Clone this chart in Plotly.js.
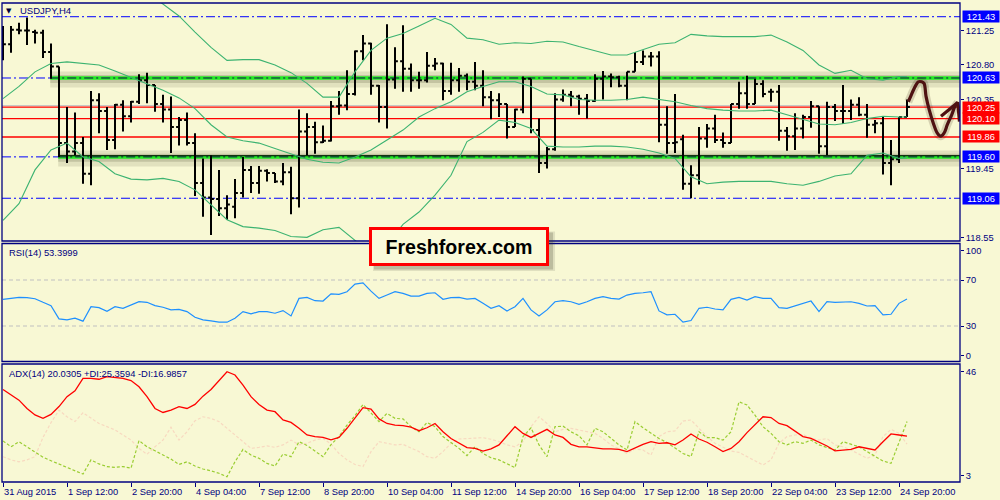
<!DOCTYPE html>
<html><head><meta charset="utf-8">
<script src="https://cdn.plot.ly/plotly-3.0.1.min.js"></script>
<style>html,body{margin:0;padding:0;background:#F8F8D4;}#chart{width:1000px;height:500px;}</style>
</head><body><div id="chart"></div>
<script>
// ---------- DATA ----------
const timeTickBars = [0,8,16,24,32,40,48,56,64,72,80,88,96,104,112];
const timeTickLabels = ["31 Aug 2015","1 Sep 12:00","2 Sep 20:00","4 Sep 04:00","7 Sep 12:00","8 Sep 20:00","10 Sep 04:00","11 Sep 12:00","14 Sep 20:00","16 Sep 04:00","17 Sep 12:00","18 Sep 20:00","22 Sep 04:00","23 Sep 12:00","24 Sep 20:00"];

const open = [121.00,121.07,121.26,121.25,121.23,121.22,120.97,120.78,119.78,119.67,
119.78,119.38,120.34,120.20,119.82,120.28,120.13,120.32,120.60,120.54,
120.29,120.22,119.99,120.08,119.78,119.26,119.07,119.05,118.93,118.95,
119.13,119.43,119.26,119.42,119.39,119.28,119.40,119.06,119.93,119.99,
119.79,119.81,120.26,120.27,120.42,120.98,121.08,120.53,120.25,120.61,
120.85,120.75,120.60,120.60,120.79,120.82,120.46,120.60,120.66,120.58,
120.53,120.38,120.34,120.29,119.99,120.22,120.62,119.95,119.52,119.70,
120.35,120.41,120.39,120.36,120.33,120.62,120.65,120.64,120.53,120.71,
120.84,120.91,120.91,120.02,119.78,119.83,119.25,119.36,119.84,119.97,
119.82,119.78,120.29,120.43,120.29,120.55,120.45,120.45,119.94,119.87,
119.97,120.12,120.26,119.74,120.25,120.20,120.20,120.28,120.15,120.02,
120.04,119.52,119.57,120.12];
const high = [121.31,121.31,121.35,121.42,121.26,121.26,121.08,120.78,120.25,120.18,
119.86,120.46,120.43,120.25,120.29,120.34,120.33,120.68,120.70,120.54,
120.41,120.39,120.12,120.18,119.91,119.58,119.62,119.43,119.10,119.31,
119.60,119.48,119.48,119.44,119.39,119.52,119.47,120.22,120.17,120.06,
120.01,120.33,120.46,120.73,120.99,121.19,121.09,120.54,121.33,121.03,
121.32,120.82,120.71,120.97,120.89,120.83,120.83,120.76,120.69,120.84,
120.73,120.46,120.43,120.29,120.23,120.65,120.62,120.10,119.73,120.43,
120.48,120.46,120.41,120.42,120.68,120.72,120.69,120.66,120.71,120.97,
120.99,120.97,120.98,120.26,120.42,119.89,119.49,119.99,120.03,120.15,
119.92,120.29,120.58,120.66,120.62,120.60,120.49,120.54,119.99,120.17,
120.15,120.33,120.26,120.32,120.29,120.54,120.35,120.38,120.29,120.08,
120.12,119.82,120.12,120.35];
const low = [120.86,120.96,121.20,121.06,121.08,120.89,120.62,119.60,119.52,119.62,
119.25,119.23,119.91,119.69,119.70,119.93,120.05,120.29,120.30,120.19,
120.05,119.65,119.75,119.75,119.09,118.82,118.58,118.83,118.78,118.80,
119.07,119.13,119.12,119.28,119.26,119.23,118.85,118.94,119.62,119.64,
119.78,119.80,120.15,120.21,120.40,120.86,120.41,120.05,119.97,120.49,
120.45,120.45,120.49,120.57,120.73,120.34,120.41,120.45,120.47,120.47,
120.26,120.09,120.12,119.84,119.99,120.17,119.91,119.39,119.45,119.68,
120.32,120.26,120.15,120.10,120.32,120.35,120.51,120.51,120.34,120.71,
120.80,120.78,119.79,119.64,119.65,119.17,119.06,119.24,119.72,119.78,
119.72,119.78,120.23,120.23,120.29,120.38,120.32,119.81,119.68,119.69,
119.84,119.98,119.64,119.62,120.07,120.03,120.08,120.13,119.85,119.91,
119.37,119.23,119.52,120.12];
const close = [121.07,121.26,121.25,121.25,121.22,120.97,120.78,119.78,119.67,119.78,
119.38,120.34,120.20,119.82,120.28,120.13,120.32,120.60,120.54,120.29,
120.22,119.99,120.08,119.78,119.26,119.07,119.05,118.93,118.98,119.13,
119.43,119.26,119.42,119.39,119.28,119.40,119.06,119.93,119.99,119.79,
119.81,120.26,120.27,120.42,120.98,121.08,120.53,120.25,120.61,120.85,
120.75,120.60,120.60,120.79,120.82,120.46,120.60,120.66,120.58,120.53,
120.38,120.34,120.29,119.99,120.22,120.62,119.95,119.52,119.70,120.35,
120.41,120.39,120.36,120.33,120.62,120.65,120.64,120.53,120.71,120.84,
120.91,120.91,120.02,119.78,119.79,119.25,119.36,119.84,119.97,119.82,
119.78,120.29,120.43,120.29,120.55,120.42,120.45,119.94,119.87,119.97,
120.12,120.26,119.74,120.25,120.20,120.20,120.28,120.15,120.02,120.04,
119.52,119.57,120.12,120.25];

// Bollinger bands (every 2nd bar)
const bbBars = [0,2,4,6,8,10,12,14,16,18,20,22,24,26,28,30,32,34,36,38,40,42,44,46,48,50,52,54,56,58,60,62,64,66,68,70,72,74,76,78,80,82,84,86,88,90,92,94,96,98,100,102,104,106,108,110,112,113];
const bbUpper = [null,null,null,null,null,null,null,null,null,121.75,121.60,121.44,121.23,121.03,120.86,120.87,120.87,120.80,120.70,120.56,120.38,120.38,120.71,120.99,121.15,121.21,121.31,121.41,121.33,121.15,121.13,121.07,121.09,121.08,121.11,121.10,121.04,120.98,120.93,120.93,121.00,121.07,121.09,121.20,121.18,121.17,121.17,121.17,121.19,121.10,120.99,120.80,120.69,120.73,120.62,120.60,120.65,120.65];
const bbMiddle = [120.36,120.52,120.71,120.82,120.84,120.82,120.80,120.72,120.64,120.56,120.47,120.37,120.23,120.02,119.86,119.81,119.78,119.71,119.64,119.57,119.53,119.52,119.60,119.69,119.82,119.95,120.12,120.23,120.32,120.45,120.52,120.58,120.58,120.52,120.42,120.41,120.35,120.34,120.34,120.35,120.38,120.35,120.32,120.27,120.23,120.21,120.20,120.20,120.21,120.15,120.09,120.03,120.02,120.05,120.10,120.13,120.12,120.12];
const bbLower = [118.77,118.99,119.43,119.69,119.78,119.60,119.54,119.38,119.31,119.30,119.32,119.28,119.17,118.97,118.78,118.69,118.67,118.64,118.56,118.55,118.65,118.68,118.51,118.34,118.45,118.72,118.88,119.10,119.36,119.80,119.92,120.08,120.05,119.97,119.74,119.73,119.73,119.74,119.74,119.73,119.70,119.65,119.58,119.34,119.25,119.27,119.28,119.28,119.28,119.25,119.23,119.28,119.35,119.38,119.62,119.65,119.58,119.59];

const rsi = [53.2,54.0,54.9,54.6,53.7,50.6,47.7,36.2,35.3,36.8,34.2,46.8,46.0,42.8,46.8,45.4,48.3,51.1,50.6,47.7,
46.3,44.0,44.5,42.5,37.6,35.3,34.5,33.3,33.3,36.8,42.5,40.5,42.5,42.5,41.1,43.4,38.8,54.0,54.9,52.0,51.7,58.0,
57.5,59.8,66.4,67.5,60.3,54.0,56.9,59.8,58.3,56.0,56.0,58.3,58.9,53.2,54.6,54.9,53.4,54.0,49.7,45.4,
47.7,43.1,46.8,54.0,44.0,38.8,44.0,51.1,52.0,51.1,48.9,51.1,54.0,55.5,54.0,53.4,56.9,58.3,58.9,59.8,
43.1,39.7,40.2,33.3,34.8,45.4,46.3,44.8,44.0,53.2,54.9,52.6,55.5,54.0,54.0,46.0,45.4,47.4,49.7,51.7,
42.5,51.1,50.6,50.6,51.1,49.7,47.4,47.7,39.7,40.2,49.7,53.4];

const adx = [37.4,35.3,33.4,30.3,27.9,26.6,28.1,31.0,34.7,36.9,41.5,41.5,41.2,42.2,41.9,41.5,40.7,38.4,34.7,30.3,
28.8,29.7,31.0,30.3,31.8,34.9,37.4,40.7,44.0,42.8,39.0,34.7,31.8,29.7,29.1,26.0,25.1,22.9,20.4,19.8,19.5,18.6,
19.5,22.9,26.9,30.6,30.1,26.4,24.7,24.1,23.9,23.3,22.0,23.1,24.7,21.6,19.1,17.3,15.7,15.4,14.4,15.2,
16.7,20.1,23.5,21.0,19.5,21.0,22.5,20.4,19.5,16.9,16.0,16.0,15.7,15.2,15.2,15.0,14.2,15.7,16.9,17.9,
17.3,17.5,16.7,18.5,20.8,18.9,17.7,16.0,14.2,15.4,17.9,21.3,24.1,27.2,26.9,24.7,23.9,21.9,19.8,19.1,
17.7,16.3,14.5,14.8,15.0,16.0,15.4,14.8,17.9,20.8,20.4,20.0];
const plusDI = [18.2,16.0,17.9,16.0,13.9,12.1,10.8,9.6,8.3,7.1,5.8,11.1,9.6,8.6,8.3,8.6,8.0,18.3,16.0,14.5,
12.9,11.4,9.4,10.4,8.8,7.7,7.0,6.1,4.8,10.4,15.0,12.9,11.7,9.8,8.8,13.3,12.3,17.9,16.5,14.4,12.3,16.8,
19.8,24.1,27.6,31.8,28.8,25.4,28.5,26.6,26.4,23.5,21.6,25.1,23.5,19.8,17.6,15.4,12.7,16.0,13.5,11.9,
11.1,9.8,8.2,19.8,23.1,16.7,12.3,23.5,23.7,21.6,20.1,16.7,22.9,21.6,19.1,16.7,14.8,25.4,23.1,21.0,
19.1,17.6,15.4,13.5,12.3,21.6,19.4,19.4,18.5,21.6,32.8,31.6,27.8,23.5,21.0,17.9,16.7,17.9,17.3,18.5,
16.7,15.7,14.8,17.9,16.9,16.0,14.2,12.3,10.7,9.8,17.9,25.4];
const minusDI = [12.3,11.1,10.4,11.1,12.3,19.5,25.0,29.7,27.2,25.4,28.7,26.6,24.7,23.5,22.3,20.4,18.5,15.4,13.2,16.0,
18.5,23.3,18.5,21.6,25.7,27.2,26.6,25.4,22.9,20.4,17.9,15.4,15.8,16.3,15.8,16.7,18.5,16.7,17.3,18.5,19.1,17.0,
13.5,11.1,9.4,8.6,14.2,17.9,17.3,16.7,16.9,15.7,14.2,12.3,11.7,14.2,17.3,18.9,19.1,19.4,19.4,18.8,
17.9,16.7,16.0,17.9,23.5,27.2,24.7,21.6,22.5,22.9,22.3,21.6,21.0,19.1,16.7,15.2,13.5,15.2,14.8,12.9,
19.8,21.6,21.9,25.6,26.0,22.9,19.8,17.3,15.7,14.4,13.9,12.3,10.7,9.2,11.1,17.3,19.8,20.4,20.6,19.1,
18.5,19.1,16.7,16.0,14.8,13.2,11.7,12.9,19.8,22.5,21.0,17.0];

// visible price-scale labels (119.90 and 119.00 sit fully under level boxes in the reference)
const priceTicks = [121.25,120.80,120.35,119.45,118.55];
const rsiTickVals = [95.5,70,30,4.2], rsiTickText = ["100","70","30","0"];
const adxTickVals = [44.0,5.2], adxTickText = ["46","3"];
const rsiLevels = [70,30];

const boxLevels = [121.43,120.63,120.25,120.10,119.86,119.60,119.06];
const boxColors = ["#0000FF","#0000FF","#FF0000","#FF0000","#FF0000","#0000FF","#0000FF"];
const dashLevels = [121.43,120.63,119.60,119.06];
const zoneLevels = [120.63,119.60];
const zoneStart = [6,7];
const blackLevels = [119.615];
const redLevels = [120.25,120.10,119.86];
const bidLevel = 120.27;

// hand drawn arrow (bar index, price)
const sketchX = [113.16,113.46,113.79,114.13,114.41,114.84,115.13,115.38,115.79,116.29,116.79,117.21,117.63,118.04,118.59,119.0,119.34];
const sketchY = [120.32,120.39,120.47,120.54,120.58,120.58,120.56,120.39,120.21,120.04,119.91,119.87,119.91,120.02,120.15,120.26,120.31];
const headX = [117.25,119.34,119.56];
const headY = [120.13,120.31,120.06];

// ---------- CHART ----------
const bars = close.map((_, i) => i);
const NAVY = "#000080";
const FONT = "Liberation Sans, Arial, sans-serif";
const BG = "#F8F8D4";
const xRange = [-0.125, 119.625];
const domMain = [0.50313, 1], domRsi = [0.25157, 0.49791], domAdx = [0, 0.24635];
const DASHDOT = "9px,3px,2px,3px";

const traces = [];
const bbStyle = {color: "#3CB371", width: 1.1};
[bbUpper, bbMiddle, bbLower].forEach(arr => traces.push({type: "scatter", mode: "lines", x: bbBars, y: arr, line: bbStyle, hoverinfo: "skip", xaxis: "x", yaxis: "y"}));
traces.push({type: "ohlc", x: bars, open: open, high: high, low: low, close: close, xaxis: "x", yaxis: "y", tickwidth: 0.36,
  increasing: {line: {color: "#000000", width: 2}}, decreasing: {line: {color: "#000000", width: 2}}, hoverinfo: "skip"});
traces.push({type: "scatter", mode: "lines", x: sketchX, y: sketchY, line: {color: "rgba(60,40,20,0.18)", width: 8, shape: "spline"}, hoverinfo: "skip", xaxis: "x", yaxis: "y"});
traces.push({type: "scatter", mode: "lines", x: sketchX, y: sketchY, line: {color: "#4E1212", width: 3.2, shape: "spline"}, hoverinfo: "skip", xaxis: "x", yaxis: "y"});
traces.push({type: "scatter", mode: "lines", x: headX, y: headY, line: {color: "#4E1212", width: 3.2}, hoverinfo: "skip", xaxis: "x", yaxis: "y"});
traces.push({type: "scatter", mode: "lines", x: bars, y: rsi, line: {color: "#1E90FF", width: 1.2}, hoverinfo: "skip", xaxis: "x", yaxis: "y2"});
traces.push({type: "scatter", mode: "lines", x: bars, y: minusDI, line: {color: "#F8D9C0", width: 1.2, dash: "3px,2px"}, hoverinfo: "skip", xaxis: "x", yaxis: "y3"});
traces.push({type: "scatter", mode: "lines", x: bars, y: plusDI, line: {color: "#9ACD32", width: 1.2, dash: "3px,2px"}, hoverinfo: "skip", xaxis: "x", yaxis: "y3"});
traces.push({type: "scatter", mode: "lines", x: bars, y: adx, line: {color: "#FF0000", width: 1.3}, hoverinfo: "skip", xaxis: "x", yaxis: "y3"});

const shapes = [];
dashLevels.forEach(lv => {
  const zi = zoneLevels.indexOf(lv);
  shapes.push({type: "line", xref: "x", yref: "y", x0: xRange[0], x1: zi >= 0 ? zoneStart[zi] : xRange[1], y0: lv, y1: lv,
    line: {color: "#0000FF", width: 1, dash: DASHDOT}, layer: "below"});
});
zoneLevels.forEach((lv, i) => {
  const x0 = zoneStart[i] - 0.1, x1 = xRange[1];
  shapes.push({type: "line", xref: "x", yref: "y", x0, x1, y0: lv - 0.02, y1: lv - 0.02, line: {color: "rgba(50,50,20,0.11)", width: 16}, layer: "below"});
  shapes.push({type: "line", xref: "x", yref: "y", x0, x1, y0: lv - 0.012, y1: lv - 0.012, line: {color: "rgba(50,50,20,0.17)", width: 8}, layer: "below"});
  shapes.push({type: "line", xref: "x", yref: "y", x0, x1, y0: lv, y1: lv, line: {color: "#22EE22", width: 3.5}, layer: "below"});
  shapes.push({type: "line", xref: "x", yref: "y", x0, x1, y0: lv, y1: lv, line: {color: "#101050", width: 1, dash: DASHDOT}, layer: "below"});
});
blackLevels.forEach(lv => shapes.push({type: "line", xref: "x", yref: "y", x0: zoneStart[1] - 0.1, x1: xRange[1], y0: lv, y1: lv, line: {color: "#000000", width: 1}, layer: "below"}));
shapes.push({type: "line", xref: "paper", yref: "y", x0: 0, x1: 1, y0: bidLevel, y1: bidLevel, line: {color: "#C4C4C4", width: 1}, layer: "below"});
redLevels.forEach(lv => shapes.push({type: "line", xref: "paper", yref: "y", x0: 0, x1: 1, y0: lv, y1: lv, line: {color: "#FF0000", width: 1.3}, layer: "below"}));
rsiLevels.forEach(lv => shapes.push({type: "line", xref: "paper", yref: "y2", x0: 0, x1: 1, y0: lv, y1: lv, line: {color: "#C0C0C0", width: 1, dash: "4px,3px"}, layer: "below"}));
[domMain, domRsi, domAdx].forEach(d => shapes.push({type: "rect", xref: "paper", yref: "paper", x0: 0, x1: 1, y0: d[0], y1: d[1], line: {color: NAVY, width: 1.3}, layer: "above"}));
// logo shadow
shapes.push({type: "rect", xref: "paper", yref: "paper", x0: 0.3873, x1: 0.5773, y0: 0.4405, y1: 0.5230, line: {width: 0}, fillcolor: "rgba(60,60,40,0.12)", layer: "above"});
shapes.push({type: "rect", xref: "paper", yref: "paper", x0: 0.3883, x1: 0.5752, y0: 0.4436, y1: 0.5209, line: {width: 0}, fillcolor: "rgba(60,60,40,0.22)", layer: "above"});

const annotations = [];
boxLevels.forEach((lv, i) => annotations.push({xref: "paper", yref: "y", x: 1.00209, y: lv, xanchor: "left", yanchor: "middle",
  text: lv.toFixed(2), showarrow: false, bgcolor: boxColors[i], width: 36, height: 11, borderpad: 0, align: "center",
  font: {family: FONT, size: 9.3, color: "#FFFFFF"}}));
timeTickBars.forEach((b, i) => annotations.push({xref: "x", yref: "paper", x: b, y: -0.02025, xanchor: "left", yanchor: "middle", xshift: -1,
  text: timeTickLabels[i], showarrow: false, font: {family: FONT, size: 9.3, color: NAVY}}));
annotations.push({xref: "paper", yref: "paper", x: 0.0068, y: 0.9833, xanchor: "center", yanchor: "middle", text: "▼", showarrow: false, font: {family: "DejaVu Sans", size: 7, color: "#000040"}});
annotations.push({xref: "paper", yref: "paper", x: 0.0162, y: 0.9839, xanchor: "left", yanchor: "middle", text: "USDJPY,H4", showarrow: false, font: {family: FONT, size: 9.5, color: NAVY}});
annotations.push({xref: "paper", yref: "paper", x: 0.0047, y: 0.47954, xanchor: "left", yanchor: "middle", text: "RSI(14) 53.3999", showarrow: false, font: {family: FONT, size: 9.4, color: NAVY}});
annotations.push({xref: "paper", yref: "paper", x: 0.0047, y: 0.22693, xanchor: "left", yanchor: "middle", text: "ADX(14) 20.0305 +DI:25.3594 -DI:16.9857", showarrow: false, font: {family: FONT, size: 9.4, color: NAVY}});
annotations.push({xref: "paper", yref: "paper", x: 0.47704, y: 0.49165, xanchor: "center", yanchor: "middle", text: "<b>Freshforex.com</b>", showarrow: false,
  width: 174, height: 33, bgcolor: "#FAFAD9", bordercolor: "#FF0000", borderwidth: 3, borderpad: 0, font: {family: FONT, size: 19.6, color: "#000000"}});

const yStyle = {side: "right", anchor: "x", showgrid: false, zeroline: false, showline: false, ticks: "outside", ticklen: 3, tickcolor: NAVY, tickwidth: 1,
  tickfont: {family: FONT, size: 9.3, color: NAVY}, fixedrange: true, automargin: false};

const layout = {
  width: 1000, height: 500, margin: {l: 2, r: 40, t: 3, b: 18, pad: 0},
  paper_bgcolor: BG, plot_bgcolor: BG, showlegend: false, hovermode: false, dragmode: false,
  xaxis: {domain: [0, 1], range: xRange, anchor: "y3", tickmode: "array", tickvals: timeTickBars, showticklabels: false, ticks: "outside", ticklen: 4,
    tickcolor: NAVY, tickwidth: 1, showgrid: false, zeroline: false, showline: false, fixedrange: true, rangeslider: {visible: false}},
  yaxis: Object.assign({}, yStyle, {domain: domMain, range: [118.502, 121.609], tickmode: "array", tickvals: priceTicks, ticktext: priceTicks.map(v => v.toFixed(2))}),
  yaxis2: Object.assign({}, yStyle, {domain: domRsi, range: [-0.87, 101.74], tickmode: "array", tickvals: rsiTickVals, ticktext: rsiTickText}),
  yaxis3: Object.assign({}, yStyle, {domain: domAdx, range: [2.85, 46.9], tickmode: "array", tickvals: adxTickVals, ticktext: adxTickText}),
  shapes: shapes, annotations: annotations
};
Plotly.newPlot("chart", traces, layout, {displayModeBar: false, staticPlot: true});
</script></body></html>
